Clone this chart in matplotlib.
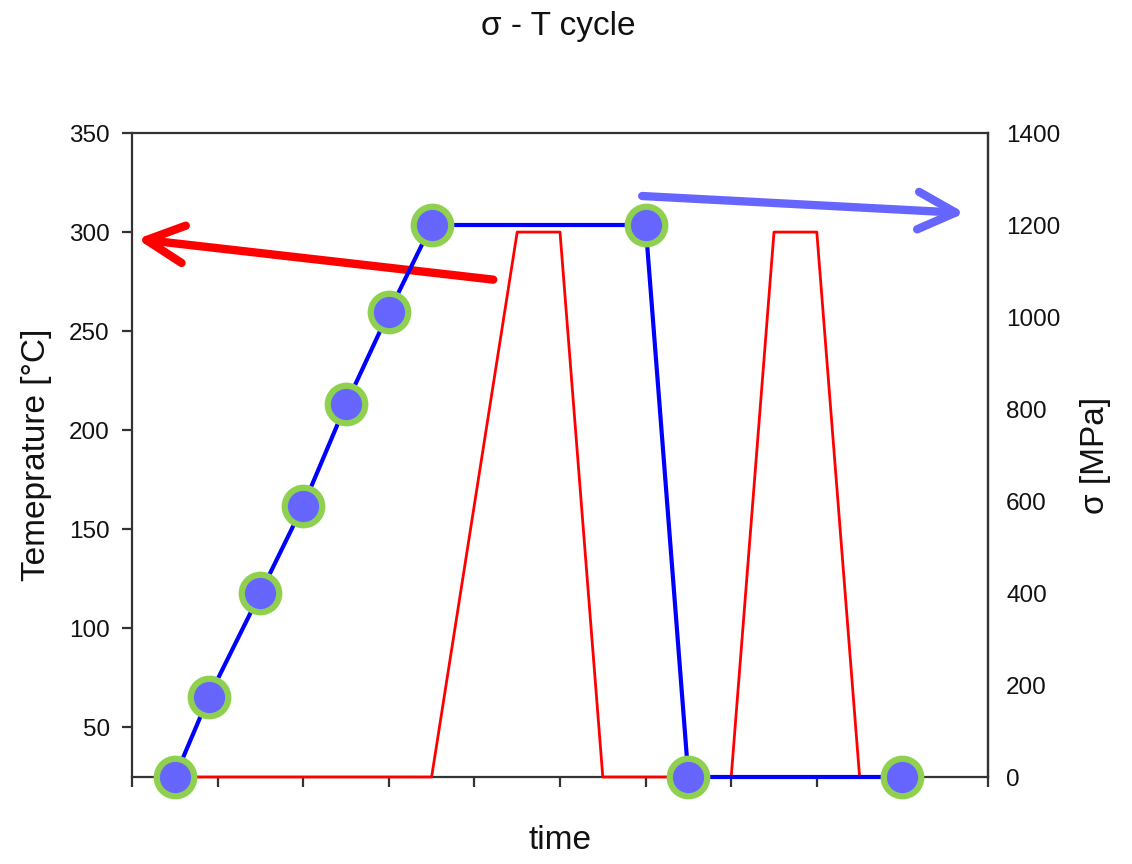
import matplotlib
matplotlib.use('Agg')
import matplotlib.pyplot as plt

plt.rcParams['font.family'] = ['Liberation Sans', 'DejaVu Sans']

# Temperature (red, left axis)
temp_time = [0.5, 3.5, 4.5, 5.0, 5.5, 7.0, 7.5, 8.0, 8.5, 9.0]
temp_vals = [25, 25, 300, 300, 25, 25, 300, 300, 25, 25]

# Stress (blue, right axis)
sigma_time = [0.5, 0.9, 1.5, 2.0, 2.5, 3.0, 3.5, 6.0, 6.5, 9.0]
sigma_vals = [0, 175, 400, 590, 810, 1010, 1200, 1200, 0, 0]

left_ticks = [50, 100, 150, 200, 250, 300, 350]
right_ticks = [0, 200, 400, 600, 800, 1000, 1200, 1400]

spine_col = '#333333'
txt_col = '#111111'
fig = plt.figure(figsize=(11.32, 8.64), dpi=100, facecolor='white')
ax = fig.add_axes([132 / 1132, 1 - 777 / 864, (988 - 132) / 1132, (777 - 133) / 864])
ax2 = ax.twinx()

ax.plot(temp_time, temp_vals, color='#ff0000', lw=2.0, zorder=3, clip_on=False)
ax2.plot(sigma_time, sigma_vals, color='#0000ff', lw=3.0, marker='o', ms=27,
         mfc='#6666ff', mec='#8fd14f', mew=4.5, zorder=4, clip_on=False)

ax.set_xlim(0, 10)
ax.set_ylim(25, 350)
ax2.set_ylim(0, 1400)
ax.set_xticks(range(0, 11))
ax.set_xticklabels([])
ax.set_yticks(left_ticks)
ax2.set_yticks(right_ticks)

for s in ax.spines.values():
    s.set_color(spine_col)
    s.set_linewidth(1.6)
for name, s in ax2.spines.items():
    s.set_visible(name == 'right')
    s.set_color(spine_col)
    s.set_linewidth(1.6)

ax.tick_params(axis='x', direction='out', length=7, width=1.6, color=spine_col)
ax.tick_params(axis='y', direction='out', length=7, width=1.6, color=spine_col,
               labelsize=17.5, labelcolor=txt_col, pad=9)
ax2.tick_params(axis='y', length=0, labelsize=17.5, labelcolor=txt_col, pad=13)

ax.set_xlabel('time', fontsize=24, color=txt_col, labelpad=24)
ax.set_ylabel('Temeprature [°C]', fontsize=24, color=txt_col, labelpad=12)
ax2.set_ylabel('σ [MPa]', fontsize=24, color=txt_col, labelpad=14)

fig.text(0.493, 1 - 27 / 864, 'σ - T cycle', fontsize=24, color=txt_col,
         ha='center', va='center')

# direction arrows pointing at the matching axis
arrow_style = '->, head_length=0.9, head_width=0.45'
ax.annotate('', xy=(0.06, 296.5), xytext=(4.22, 276),
            arrowprops=dict(arrowstyle=arrow_style, color='#ff0000', lw=6,
                            mutation_scale=30, capstyle='round', joinstyle='round',
                            shrinkA=0, shrinkB=0),
            annotation_clip=False, zorder=6)
ax2.annotate('', xy=(9.73, 1226), xytext=(5.96, 1263),
             arrowprops=dict(arrowstyle=arrow_style, color='#6666ff', lw=6,
                             mutation_scale=30, capstyle='round', joinstyle='round',
                             shrinkA=0, shrinkB=0),
             annotation_clip=False, zorder=6)

plt.savefig('out.png', dpi=100, facecolor='white')
plt.close()
